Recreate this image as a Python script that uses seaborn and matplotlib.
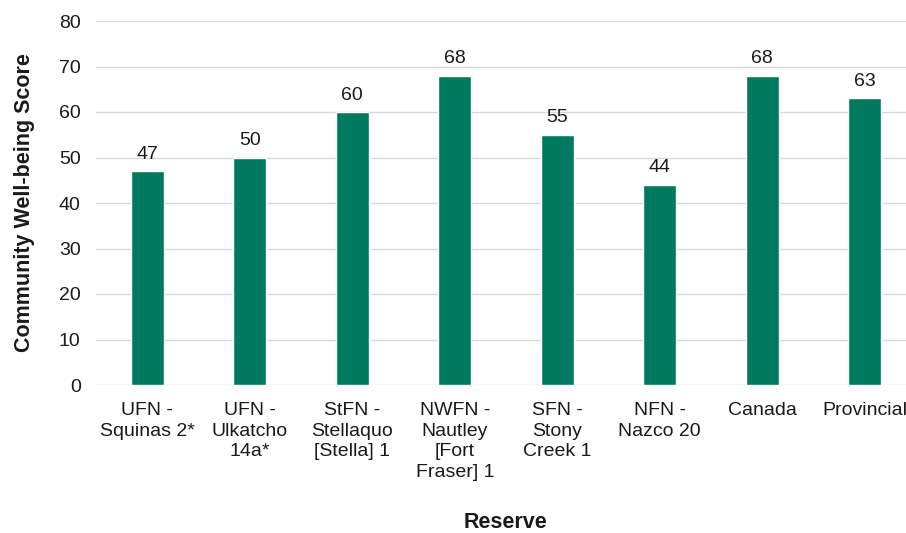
import matplotlib
matplotlib.use("Agg")
import matplotlib.pyplot as plt
import seaborn as sns
import pandas as pd

reserves = [
    "UFN -\nSquinas 2*",
    "UFN -\nUlkatcho\n14a*",
    "StFN -\nStellaquo\n[Stella] 1",
    "NWFN -\nNautley\n[Fort\nFraser] 1",
    "SFN -\nStony\nCreek 1",
    "NFN -\nNazco 20",
    "Canada",
    "Provincial",
]
scores = [47, 50, 60, 68, 55, 44, 68, 63]
y_ticks = [0, 10, 20, 30, 40, 50, 60, 70, 80]

sns.set_theme(style="white")
plt.rcParams["font.family"] = ["Liberation Sans", "DejaVu Sans"]

df = pd.DataFrame({"Reserve": reserves, "Score": scores})

fig = plt.figure(figsize=(9.06, 5.33), dpi=100)
ax = fig.add_axes([96 / 906, 1 - 385 / 533, 820 / 906, 364 / 533])

sns.barplot(data=df, x="Reserve", y="Score", color="#007A5E", width=0.32,
            saturation=1, ax=ax, zorder=3)

ax.set_ylim(0, 80)
ax.set_yticks(y_ticks)
ax.yaxis.grid(True, color="#d9d9d9", linewidth=1, zorder=0)
ax.set_axisbelow(True)
for s in ax.spines.values():
    s.set_visible(False)

ax.tick_params(axis="both", length=0, labelsize=14, colors="#1a1a1a")
ax.tick_params(axis="y", pad=11)
ax.tick_params(axis="x", pad=12)
for lbl in ax.get_xticklabels():
    lbl.set_linespacing(1.3)

for p, v in zip(ax.patches, scores):
    ax.annotate(str(v), (p.get_x() + p.get_width() / 2, v),
                xytext=(0, 6), textcoords="offset points",
                ha="center", va="bottom", fontsize=14, color="#1a1a1a")

ax.set_xlabel("")
ax.set_ylabel("Community Well-being Score", fontsize=15.5, fontweight="bold",
              color="#1a1a1a", labelpad=17)
fig.text(506 / 906, 1 - 523 / 533, "Reserve", fontsize=15.5, fontweight="bold",
         color="#1a1a1a", ha="center", va="center")

fig.savefig("out.png", dpi=100)
